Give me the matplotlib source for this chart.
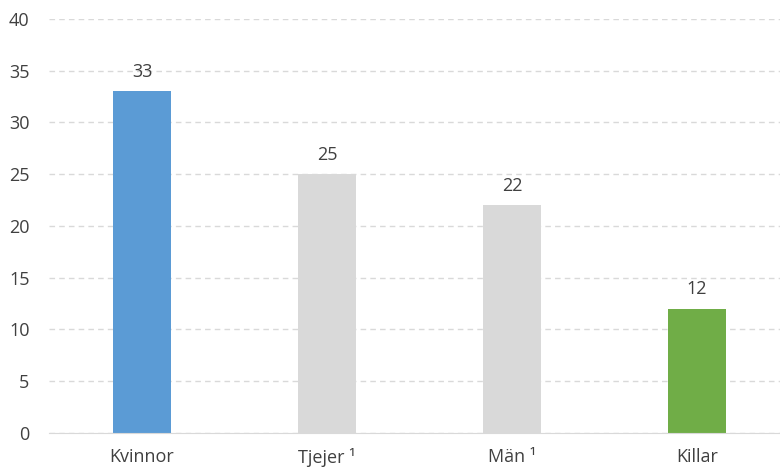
import matplotlib.pyplot as plt

# data
categories = ['Kvinnor', 'Tjejer \u00b9', 'Män \u00b9', 'Killar']
values = [33, 25, 22, 12]
colors = ['#5B9BD5', '#D9D9D9', '#D9D9D9', '#70AD47']
yticks = [0, 5, 10, 15, 20, 25, 30, 35, 40]

plt.rcParams['font.family'] = ['Open Sans', 'DejaVu Sans']

fig = plt.figure(figsize=(7.8, 4.71), dpi=100)
ax = fig.add_axes([0.0628, 0.0807, 0.9372, 0.879])

x = range(len(categories))
bars = ax.bar(x, values, width=0.31, color=colors, zorder=3)
for xi, v in zip(x, values):
    ax.text(xi, v + 1.0, str(v), ha='center', va='bottom', fontsize=13, color='#404040')

ax.set_xlim(-0.503, 3.449)
ax.set_ylim(0, 40)
ax.set_yticks(yticks)
ax.set_xticks(list(x))
ax.set_xticklabels(categories)
ax.tick_params(axis='both', length=0, labelsize=13, labelcolor='#404040')
ax.tick_params(axis='x', pad=11)
ax.tick_params(axis='y', pad=14)

ax.yaxis.grid(True, color='#D9D9D9', linestyle=(0, (4, 3)), linewidth=1, zorder=0)
for s in ['top', 'right', 'left']:
    ax.spines[s].set_visible(False)
ax.spines['bottom'].set_color('#D9D9D9')
ax.spines['bottom'].set_zorder(4)

fig.savefig('out.png', dpi=100)
